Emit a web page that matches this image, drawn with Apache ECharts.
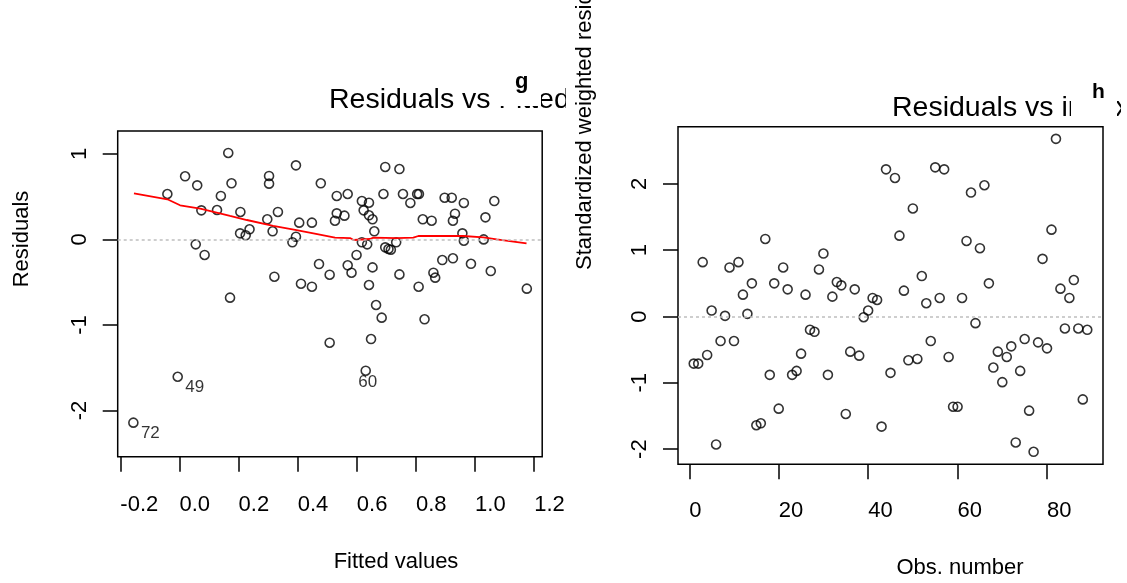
<!DOCTYPE html>
<html><head><meta charset="utf-8">
<script src="https://cdn.jsdelivr.net/npm/echarts@6/dist/echarts.min.js"></script>
<style>html,body{margin:0;padding:0;background:#fff}#c{width:1127px;height:583px}</style>
</head><body><div id="c"></div>
<script>
// ---- Left panel: Residuals vs Fitted ----
const leftFitted = [-0.041,0.019,0.060,0.074,0.055,0.085,0.127,0.140,0.165,0.176,0.206,0.205,0.224,0.237,0.297,0.303,0.303,0.315,0.333,0.321,
  0.394,0.394,0.382,0.405,0.411,0.448,0.448,0.478,0.472,0.508,0.532,0.532,0.526,0.558,0.569,0.569,0.582,0.599,0.617,0.623,
  0.617,0.635,0.641,0.641,0.653,0.659,0.653,0.641,0.690,0.696,0.696,0.707,0.715,0.733,0.744,0.756,0.744,0.781,0.804,0.810,
  0.809,0.823,0.853,0.859,0.865,0.889,0.897,0.921,0.925,0.932,0.925,0.962,0.957,0.962,0.986,1.029,1.035,1.053,1.065,1.175,
  0.171,0.665,0.684,0.829,0.508,0.648,0.630,-0.006,-0.156];
const leftResid = [0.532,0.739,0.633,0.341,-0.057,-0.181,0.345,0.509,1.012,0.657,0.322,0.072,0.049,0.119,0.236,0.743,0.653,0.096,0.322,-0.435,
  0.867,0.033,-0.033,0.197,-0.517,0.197,-0.552,0.657,-0.287,-0.412,0.509,0.306,0.220,0.279,0.532,-0.302,-0.388,-0.181,0.450,0.341,
  -0.033,-0.057,0.430,0.283,0.236,0.096,-0.326,-0.532,0.532,0.848,-0.092,-0.111,-0.119,-0.033,0.824,0.532,-0.408,0.427,0.532,0.532,
  -0.552,0.236,0.220,-0.388,-0.446,-0.240,0.489,0.489,0.220,0.302,-0.220,0.427,0.072,-0.014,-0.284,0.001,0.259,-0.369,0.450,-0.575,
  -0.680,-0.766,-0.914,-0.933,-1.207,-1.164,-1.534,-1.605,-2.142];
const labelIndex = [88, 87, 86];
const labelText = ['72', '49', '60'];
const smoothX = [-0.154,-0.041,0.002,0.070,0.171,0.228,0.317,0.396,0.453,0.526,0.577,0.589,0.644,0.656,0.735,0.791,0.808,0.960,1.028,1.073,1.174];
const smoothY = [0.540,0.470,0.400,0.360,0.275,0.228,0.160,0.110,0.072,0.021,0.017,-0.006,0.006,0.021,0.017,0.021,0.041,0.041,0.025,0.002,-0.045];
const leftXTicks = [-0.2,0.0,0.2,0.4,0.6,0.8,1.0,1.2];
const leftYTicks = [-2,-1,0,1];

// ---- Right panel: Residuals vs index ----
const stdResid = [-0.71,-0.71,0.82,-0.58,0.09,-1.93,-0.37,0.01,0.74,-0.37,
  0.82,0.33,0.04,0.50,-1.64,-1.61,1.17,-0.88,0.50,-1.39,
  0.74,0.41,-0.88,-0.82,-0.56,0.33,-0.20,-0.23,0.71,0.95,
  -0.88,0.30,0.52,0.47,-1.47,-0.53,0.41,-0.59,-0.01,0.09,
  0.28,0.25,-1.66,2.22,-0.85,2.09,1.22,0.39,-0.66,1.63,
  -0.64,0.61,0.20,-0.37,2.25,0.28,2.22,-0.61,-1.36,-1.36,
  0.28,1.14,1.87,-0.10,1.03,1.98,0.50,-0.77,-0.53,-0.99,
  -0.61,-0.45,-1.90,-0.82,-0.34,-1.42,-2.04,-0.39,0.87,-0.48,
  1.31,2.68,0.42,-0.18,0.28,0.55,-0.18,-1.25,-0.20];
const obsNumber = stdResid.map((v, i) => i + 1);
const rightXTicks = [0,20,40,60,80];
const rightYTicks = [-2,-1,0,1,2];

const FONT = '"Liberation Sans", Arial, sans-serif';
const chart = echarts.init(document.getElementById('c'), null, {renderer: 'canvas'});

function axisCommon(ticks, fmt, extra) {
  return {
    type: 'value',
    axisLine: {show: false, onZero: false},
    splitLine: {show: false},
    axisTick: {show: true, inside: false, length: 15, customValues: ticks, lineStyle: {color: '#000', width: 1.5}},
    axisLabel: Object.assign({customValues: ticks, color: '#000', fontFamily: FONT, fontSize: 22, formatter: fmt}, extra || {})
  };
}

const leftData = leftFitted.map((x, i) => {
  const k = labelIndex.indexOf(i);
  const item = {value: [x, leftResid[i]]};
  if (k >= 0) {
    const off = k === 2 ? [2, 12] : [17, 11];
    item.label = {show: true, formatter: labelText[k], position: 'inside', offset: off,
      color: '#000', fontFamily: FONT, fontSize: 17};
  }
  return item;
});
const rightData = obsNumber.map((x, i) => [x, stdResid[i]]);
const smoothData = smoothX.map((x, i) => [x, smoothY[i]]);

const circleStyle = {color: 'rgba(0,0,0,0)', borderColor: '#000', borderWidth: 1.6};
const zeroLine = {silent: true, symbol: ['none', 'none'], label: {show: false},
  lineStyle: {color: '#bebebe', type: [3, 3], width: 1.5}, emphasis: {disabled: true}, data: [{yAxis: 0}]};

chart.setOption({
  animation: false,
  backgroundColor: '#fff',
  grid: [
    {left: 117.7, top: 130.9, width: 424.5, height: 325.8, show: true, borderColor: '#000', borderWidth: 1.5, backgroundColor: 'transparent'},
    {left: 678, top: 126.7, width: 425, height: 337.6, show: true, borderColor: '#000', borderWidth: 1.5, backgroundColor: 'transparent'}
  ],
  xAxis: [
    Object.assign(axisCommon(leftXTicks, v => v.toFixed(1), {align: 'left', margin: 37}), {gridIndex: 0, min: -0.209, max: 1.227}),
    Object.assign(axisCommon(rightXTicks, v => String(v), {align: 'left', margin: 36}), {gridIndex: 1, min: -2.52, max: 92.52})
  ],
  yAxis: [
    Object.assign(axisCommon(leftYTicks, v => String(v), {rotate: 90, margin: 27}), {gridIndex: 0, min: -2.54, max: 1.27}),
    Object.assign(axisCommon(rightYTicks, v => String(v), {rotate: 90, margin: 27}), {gridIndex: 1, min: -2.229, max: 2.863})
  ],
  series: [
    {type: 'scatter', xAxisIndex: 0, yAxisIndex: 0, data: leftData, symbol: 'circle', symbolSize: 9,
      itemStyle: circleStyle, silent: true, markLine: zeroLine, z: 3},
    {type: 'line', xAxisIndex: 0, yAxisIndex: 0, data: smoothData, showSymbol: false, symbol: 'none',
      lineStyle: {color: '#ff0000', width: 1.8}, silent: true, z: 4},
    {type: 'scatter', xAxisIndex: 1, yAxisIndex: 1, data: rightData, symbol: 'circle', symbolSize: 9,
      itemStyle: circleStyle, silent: true, markLine: zeroLine, z: 3}
  ],
  graphic: [
    {type: 'text', x: 329, y: 100, z: 100, style: {text: 'Residuals vs Fitted', font: '28.5px ' + FONT, fill: '#000', verticalAlign: 'middle', align: 'left'}},
    {type: 'rect', z: 101, shape: {x: 497, y: 79, width: 44, height: 27}, style: {fill: '#fff'}},
    {type: 'text', x: 515, y: 82, z: 102, style: {text: 'g', font: 'bold 22px ' + FONT, fill: '#000', verticalAlign: 'middle', align: 'left'}},
    {type: 'rect', z: 103, shape: {x: 566, y: 55, width: 8, height: 70}, style: {fill: '#fff'}},
    {type: 'text', x: 892, y: 108, z: 100, style: {text: 'Residuals vs index', font: '28.5px ' + FONT, fill: '#000', verticalAlign: 'middle', align: 'left'}},
    {type: 'rect', z: 101, shape: {x: 1071, y: 84, width: 46, height: 42}, style: {fill: '#fff'}},
    {type: 'rect', z: 101, shape: {x: 1121, y: 84, width: 10, height: 42}, style: {fill: '#fff'}},
    {type: 'text', x: 1092, y: 92, z: 102, style: {text: 'h', font: 'bold 21px ' + FONT, fill: '#000', verticalAlign: 'middle', align: 'left'}},
    {type: 'text', x: 22, y: 239, rotation: Math.PI / 2, z: 100, style: {text: 'Residuals', font: '22px ' + FONT, fill: '#000', verticalAlign: 'middle', align: 'center'}},
    {type: 'text', x: 585, y: 270, rotation: Math.PI / 2, z: 104, style: {text: 'Standardized weighted residuals', font: '22px ' + FONT, fill: '#000', verticalAlign: 'middle', align: 'left'}},
    {type: 'text', x: 396, y: 562, z: 100, style: {text: 'Fitted values', font: '22px ' + FONT, fill: '#000', verticalAlign: 'middle', align: 'center'}},
    {type: 'text', x: 960, y: 568, z: 100, style: {text: 'Obs. number', font: '22px ' + FONT, fill: '#000', verticalAlign: 'middle', align: 'center'}}
  ]
});
</script></body></html>
